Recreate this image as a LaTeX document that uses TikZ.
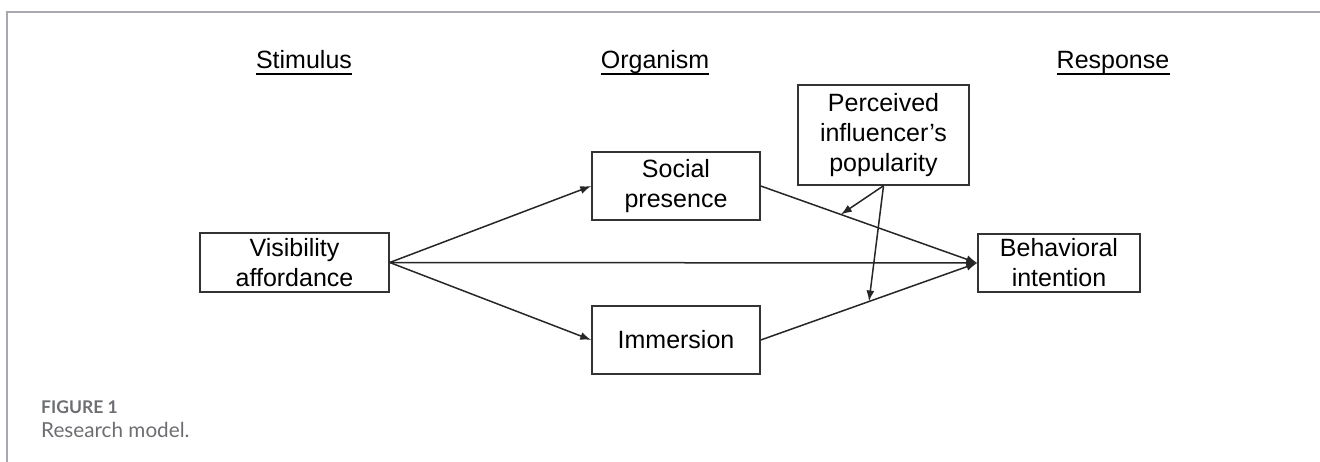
\documentclass[tikz,border=0pt]{standalone}
\usepackage{fontspec}
\setmainfont{Liberation Sans}
\newfontfamily\capfont{Lato}
\usetikzlibrary{arrows.meta,calc}
\definecolor{framegray}{HTML}{A7A9AC}
\definecolor{capgray}{HTML}{6D6E71}
\definecolor{boxline}{HTML}{333333}
\tikzset{
  box/.style={draw=boxline, line width=1.5pt, align=center, inner sep=0pt,
    font=\fontsize{25}{30}\selectfont},
  conn/.style={draw=black!85, line width=1.5pt, -{Latex[length=11pt,width=8pt]}},
  stage/.style={inner sep=0pt, anchor=base, font=\fontsize{25}{30}\selectfont},
  uline/.style={line width=1.8pt, black}
}
\begin{document}
\begin{tikzpicture}[x=1pt,y=-1pt]
\useasboundingbox (0,0) rectangle (1320,462);
\draw[framegray, line width=1.5pt] (7,462) -- (7,12) -- (1320,12);

% stage labels
\node[stage] (stim) at (304,69) {Stimulus};
\node[stage] (org) at (655,69) {Organism};
\node[stage] (resp) at (1113,69) {Response};
\foreach \n in {stim,org,resp}
  \draw[uline] ([yshift=-5pt]\n.base west) -- ([yshift=-5pt]\n.base east);

% boxes
\node[box, minimum width=189pt, minimum height=59pt] (vis) at (294.5,262.5) {Visibility\\affordance};
\node[box, minimum width=168pt, minimum height=68pt] (soc) at (676,186) {Social\\presence};
\node[box, minimum width=168pt, minimum height=68pt] (imm) at (676,340) {Immersion};
\node[box, minimum width=162pt, minimum height=58pt] (beh) at (1059,263) {Behavioral\\intention};
\node[box, minimum width=171pt, minimum height=100pt] (per) at (883.5,135) {Perceived\\influencer’s\\popularity};

% connectors
\draw[conn] (vis.east) -- (soc.west);
\draw[conn] (vis.east) -- (imm.west);
\draw[conn] (vis.east) -- (beh.west);
\draw[conn] (soc.east) -- (beh.west);
\draw[conn] (imm.east) -- (beh.west);
\coordinate (m1) at ($(soc.east)!0.37!(beh.west)$);
\coordinate (m2) at ($(imm.east)!0.5!(beh.west)$);
\draw[conn] (per.south) -- (m1);
\draw[conn] (per.south) -- (m2);

% caption
\node[anchor=base west, inner sep=0pt, text=capgray, font=\capfont\bfseries\fontsize{17.5}{20}\selectfont] (fig) at (41,413) {FIGURE 1};
\node[anchor=base west, inner sep=0pt, text=capgray, font=\capfont\fontsize{20.7}{24}\selectfont] (cap) at (41,437) {Research model.};
\end{tikzpicture}
\end{document}
